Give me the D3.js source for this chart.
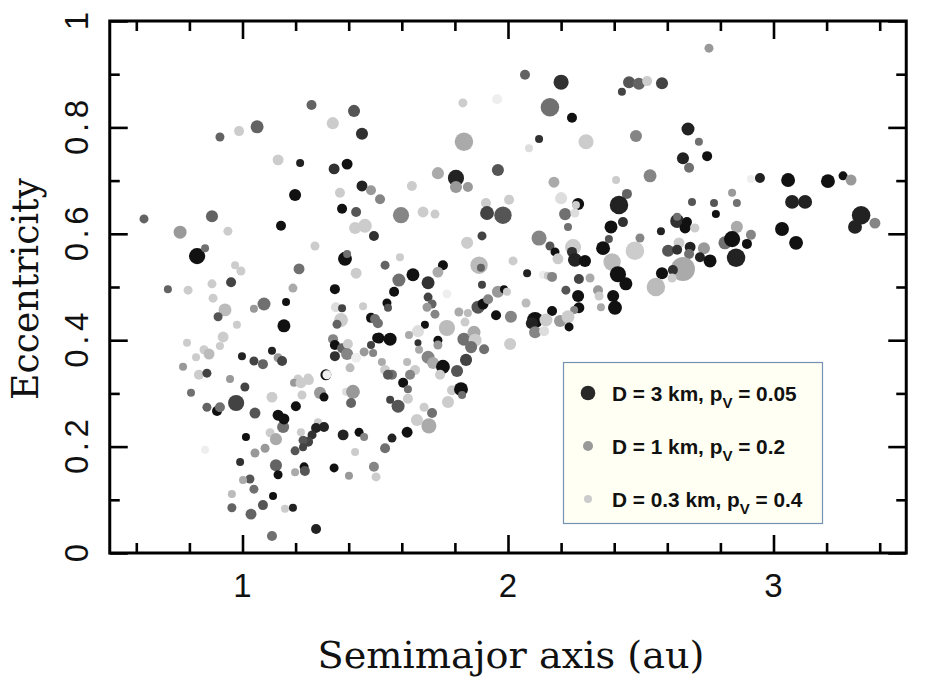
<!DOCTYPE html>
<html>
<head>
<meta charset="utf-8">
<script src="https://cdn.jsdelivr.net/npm/d3@7"></script>
<style>
  html, body { margin: 0; padding: 0; background: #fff; }
  svg { display: block; }
</style>
</head>
<body>
<svg id="chart" width="926" height="687"></svg>
<script>
// ---------------- data ----------------
const semimajor = [
1.26,1.42,1.34,1.45,1.055,0.987,0.915,1.134,1.217,1.345,
1.394,1.45,1.484,1.367,1.198,2.064,2.2,2.456,2.493,2.429,
1.83,1.959,2.158,2.241,2.117,2.079,2.294,2.482,1.834,1.736,
1.804,1.804,1.849,1.962,1.638,2.173,2.407,2.448,1.518,1.917,
2.004,2.2,2.264,2.256,2.418,2.757,2.58,2.524,2.678,2.719,
2.659,2.75,2.682,2.535,2.915,2.949,3.055,3.205,3.262,3.292,
2.844,2.693,2.776,2.862,3.07,3.119,1.375,1.428,0.629,0.885,
0.765,0.945,1.145,1.424,1.461,1.495,1.273,0.829,0.859,1.386,
1.394,0.972,0.994,1.213,1.428,0.719,0.795,0.885,0.957,1.19,
1.348,0.889,0.934,0.908,0.979,1.043,1.081,1.164,1.156,1.352,
1.375,1.371,1.356,1.454,1.484,1.499,0.791,0.927,0.915,0.855,
0.874,0.825,0.998,1.043,1.077,1.111,1.134,1.149,1.341,1.348,
1.375,1.397,1.394,1.348,1.428,1.458,1.484,1.492,1.507,0.776,
1.405,0.836,0.866,0.953,1.314,1.318,1.209,1.247,1.597,1.68,
1.725,1.921,1.981,1.846,1.902,1.593,1.537,1.755,1.736,1.642,
1.589,1.699,1.891,1.898,2.019,1.571,1.544,1.548,1.699,1.714,
1.695,1.77,1.902,1.962,1.985,1.996,1.887,1.906,1.925,1.725,
1.815,1.849,1.955,2.011,2.068,1.51,1.687,1.661,1.77,1.838,
1.627,1.514,1.556,1.661,1.736,1.736,1.665,1.834,1.872,1.876,
1.861,1.91,2.008,1.699,1.718,1.755,1.842,1.808,1.62,1.525,
1.537,1.563,1.65,1.631,1.744,2.215,2.252,2.388,2.433,2.226,
2.117,2.158,2.177,2.188,2.245,2.241,2.252,2.29,2.38,2.358,
2.478,2.497,2.392,2.414,2.444,2.072,2.132,2.15,2.166,2.267,
2.309,2.218,2.264,2.339,2.343,2.396,2.403,2.35,2.267,2.249,
2.166,2.102,2.09,2.143,2.196,2.226,2.23,2.102,2.136,2.783,
3.33,3.307,3.382,3.032,3.085,2.637,2.637,2.674,2.667,2.704,
2.576,2.603,2.644,2.637,2.686,2.682,2.738,2.723,2.761,2.659,
2.621,2.58,2.618,2.557,2.862,2.817,2.844,2.915,2.9,2.859,
1.009,0.806,0.866,0.904,0.915,0.976,1.047,1.111,1.153,1.134,
1.156,1.194,1.22,1.25,1.224,1.201,1.292,1.307,1.39,1.416,
1.409,1.284,1.307,1.277,1.262,1.247,1.228,1.22,1.228,1.198,
1.104,1.126,1.013,1.047,1.085,1.379,1.439,1.458,1.424,0.859,
0.991,1.126,1.134,1.232,1.235,1.198,1.345,1.401,1.495,1.503,
1.028,1.002,1.043,0.96,1.115,1.077,0.96,1.032,1.16,1.19,
1.277,1.111,1.548,1.605,1.623,1.623,1.556,1.586,1.789,1.823,
1.827,1.774,1.684,1.714,1.657,1.702,1.62,1.563,1.537
];
const eccentricity = [
.842,.831,.808,.788,.801,.793,.782,.739,.733,.722,
.731,.690,.682,.677,.673,.899,.885,.885,.882,.867,
.846,.853,.838,.818,.778,.761,.773,.784,.773,.714,
.705,.688,.688,.720,.690,.697,.701,.675,.665,.658,
.664,.667,.656,.654,.654,.949,.883,.887,.797,.773,
.742,.746,.724,.709,.703,.705,.701,.699,.709,.701,
.677,.660,.658,.658,.660,.660,.647,.641,.628,.633,
.603,.605,.615,.611,.615,.596,.577,.558,.573,.553,
.562,.541,.530,.534,.526,.496,.494,.506,.509,.498,
.496,.479,.457,.444,.429,.459,.468,.472,.427,.462,
.460,.438,.430,.464,.442,.440,.395,.406,.389,.382,
.374,.368,.370,.361,.355,.380,.367,.361,.402,.391,
.385,.393,.374,.370,.367,.378,.391,.376,.404,.350,
.348,.335,.338,.327,.335,.335,.327,.329,.635,.641,
.637,.639,.635,.583,.596,.556,.541,.541,.528,.523,
.513,.508,.541,.536,.549,.491,.470,.461,.481,.468,
.462,.487,.504,.491,.496,.491,.462,.468,.477,.449,
.453,.451,.447,.444,.470,.432,.429,.417,.423,.434,
.410,.404,.402,.395,.400,.391,.382,.402,.415,.400,
.387,.383,.393,.368,.357,.350,.363,.342,.359,.359,
.344,.335,.344,.335,.335,.637,.639,.613,.622,.613,
.592,.577,.566,.553,.575,.566,.551,.549,.590,.573,
.568,.592,.547,.524,.506,.526,.523,.521,.519,.515,
.517,.494,.483,.494,.483,.483,.461,.462,.461,.457,
.455,.438,.432,.438,.436,.444,.425,.415,.417,.637,
.635,.613,.620,.609,.583,.624,.632,.622,.611,.611,
.605,.568,.583,.570,.575,.562,.573,.556,.549,.534,
.532,.526,.517,.500,.613,.583,.590,.598,.581,.555,
.312,.301,.274,.267,.274,.282,.263,.293,.237,.259,
.252,.320,.320,.325,.297,.276,.301,.293,.303,.303,
.282,.246,.237,.235,.222,.209,.212,.227,.199,.192,
.226,.214,.218,.188,.197,.222,.227,.218,.190,.194,
.171,.165,.147,.162,.154,.152,.160,.145,.162,.143,
.139,.137,.120,.111,.107,.090,.085,.073,.083,.085,
.045,.032,.335,.320,.308,.290,.288,.276,.306,.308,
.297,.284,.274,.263,.250,.239,.227,.216,.197
];
// diameter D (km)
const diameter = [
1,1.9,1.9,1.9,2.3,1,.65,1.4,.3,1.4,
1.4,1.4,1,1,1.9,1,3.3,1.9,1.9,.3,
.65,1,5.5,1,.3,.3,3.3,1.9,5.5,1.9,
4,1.9,1,1.9,1,1.4,.3,1,1,1,
1,1.9,1.9,.3,5.5,.65,1.9,1,2.3,.3,
1.9,1,1,2.3,.3,1,2.7,2.7,.65,1.4,
.3,.3,.3,.3,2.7,2.7,1,1,.65,1.9,
2.3,.65,1,1.9,2.7,1,.65,4,.3,2.7,
.3,.3,.65,1.4,1.4,.3,.65,.65,1,.65,
1,.65,2.3,.65,.3,.3,2.3,.3,2.3,1,
.3,2.7,.65,.3,1,1,.3,1.4,.3,.65,
1.4,.3,.3,.65,1,.3,.65,1,1,1,
1,1,1.9,1,1,.65,.3,.3,1,.3,
.65,1,.65,.3,1.4,.65,.65,.65,4,1.4,
.65,2.7,4.8,1.9,.65,.3,.65,1,1.4,2.3,
2.3,2.3,4.8,.3,.65,1,.65,.3,.65,.65,
.65,.65,.3,1.9,.3,.3,2.3,1.4,1,.65,
.65,.3,1,1.9,.65,1,.3,1.9,4,.65,
.3,1.4,2.3,.2,.65,.65,.3,2.3,2.3,2.3,
1.9,1,1.9,2.3,1.9,2.7,1.9,1.9,.3,.3,
1,1,1,1,1,1.9,.65,2.3,1,.3,
3.3,.65,.65,1.4,4,1,2.7,1.9,.3,2.7,
5.5,.65,4.8,4,2.3,.3,.3,.3,1,1,
.65,.65,1.9,1,.65,1.9,2.7,.3,1.4,.3,
1,4,1.9,2.3,1.9,2.3,.65,1.9,1,.3,
5.5,2.7,1.4,2.7,2.7,2.7,.3,1,1.4,.65,
.3,1.9,1.4,1,1.4,1,1.9,1,2.3,9,
1,1.9,.65,5.5,1.9,2.3,4,1,1,5.5,
.65,.3,.65,1,1,4,1.4,1.4,1.9,1.4,
1.4,.3,1.4,1,.65,1,1.9,.65,.3,2.7,
1,.3,1,1,.65,1,.65,.3,.3,.65,
.65,1.9,.3,.65,.65,1.4,.65,.3,.3,.3,
.3,1.9,.65,.65,1,.3,.65,.3,1,.65,
.65,.3,.65,.3,.3,1,.65,1.4,.3,.3,
1,1,1,1,.3,1,.3,2.3,1,2.7,
.3,1.9,.65,1,1.9,3.3,1.4,.65,1
];
// geometric albedo pV
const albedo = [
.12,.1,.4,.06,.12,.4,.12,.4,.045,.06,
.03,.045,.2,.4,.03,.12,.06,.1,.12,.08,
.4,.5,.14,.03,.06,.45,.4,.17,.25,.25,
.045,.2,.2,.1,.4,.25,.4,.12,.17,.4,
.4,.45,.03,.4,.045,.2,.08,.4,.045,.14,
.045,.03,.14,.17,.5,.045,.03,.03,.03,.2,
.2,.1,.1,.14,.045,.045,.03,.1,.12,.12,
.2,.4,.03,.4,.4,.06,.4,.03,.14,.03,
.14,.4,.4,.14,.4,.12,.4,.4,.08,.25,
.03,.4,.3,.1,.4,.2,.14,.03,.03,.45,
.08,.4,.12,.4,.03,.14,.4,.4,.4,.4,
.3,.4,.045,.08,.12,.045,.2,.08,.17,.03,
.12,.4,.17,.06,.5,.2,.08,.17,.03,.2,
.3,.4,.08,.2,.03,.5,.4,.4,.17,.4,
.4,.08,.1,.4,.08,.4,.12,.03,.25,.03,
.14,.06,.3,.12,.4,.03,.03,.1,.08,.12,
.2,.5,.08,.2,.03,.4,.1,.03,.17,.17,
.25,.3,.03,.17,.3,.14,.03,.45,.3,.4,
.25,.03,.03,.06,.03,.2,.25,.14,.25,.4,
.14,.14,.4,.17,.25,.03,.08,.1,.3,.25,
.4,.14,.4,.17,.4,.14,.45,.03,.06,.14,
.17,.1,.03,.4,.4,.06,.045,.03,.1,.03,
.4,.17,.3,.03,.03,.045,.5,.4,.17,.08,
.25,.1,.03,.2,.4,.03,.03,.25,.03,.17,
.03,.03,.045,.4,.2,.4,.03,.17,.45,.03,
.045,.045,.17,.03,.03,.06,.14,.03,.03,.4,
.045,.1,.4,.06,.045,.14,.2,.045,.03,.25,
.06,.03,.4,.3,.25,.14,.03,.17,.03,.045,
.08,.14,.12,.03,.14,.08,.1,.4,.14,.03,
.03,.2,.4,.4,.4,.03,.2,.03,.45,.2,
.12,.4,.045,.045,.06,.08,.1,.4,.08,.1,
.4,.25,.03,.2,.2,.045,.03,.17,.4,.5,
.06,.12,.03,.03,.1,.25,.03,.2,.17,.4,
.1,.25,.14,.3,.03,.1,.12,.12,.4,.045,
.045,.14,.1,.03,.14,.4,.08,.1,.4,.03,
.14,.4,.4,.14,.4,.25,.03,.045,.14
];

const legendDiameter = [3, 1, 0.3];
const legendAlbedo = [0.05, 0.2, 0.4];
const legendDText = ["3", "1", "0.3"];
const legendPvText = ["0.05", "0.2", "0.4"];

const xMajorTicks = [1, 2, 3];
const xMinorTicks = [0.6, 0.8, 1.2, 1.4, 1.6, 1.8, 2.2, 2.4, 2.6, 2.8, 3.2, 3.4];
const xTickLabels = ["1", "2", "3"];
const yMajorTicks = [0, 0.2, 0.4, 0.6, 0.8, 1];
const yMinorTicks = [0.1, 0.3, 0.5, 0.7, 0.9];
const yTickLabels = ["0", "0.2", "0.4", "0.6", "0.8", "1"];

const xTitle = "Semimajor axis (au)";
const yTitle = "Eccentricity";

// ---------------- chart ----------------
const svg = d3.select("#chart");
const L = 109.75, R = 906.25, T = 21, B = 553;

const x = d3.scaleLinear().domain([0.5, 3.5]).range([L, R]);
const y = d3.scaleLinear().domain([0, 1]).range([B, T]);
const rScale = d3.scaleLinear().domain([0.2, 0.3, 1, 3, 9]).range([3.5, 4, 5, 7.3, 12]);
const grayScale = d3.scaleLinear().domain([0.03, 0.05, 0.1, 0.2, 0.3, 0.4, 0.5])
  .range([17, 40, 85, 153, 187, 204, 238]).clamp(true);
const colorOf = pv => { const g = Math.round(grayScale(pv)); return d3.rgb(g, g, g).formatHex(); };

const data = semimajor.map((a, i) => ({ a, e: eccentricity[i], D: diameter[i], pv: albedo[i] }));

// points
svg.append("g").selectAll("circle").data(data).join("circle")
  .attr("cx", d => x(d.a))
  .attr("cy", d => y(d.e))
  .attr("r", d => rScale(d.D))
  .attr("fill", d => colorOf(d.pv));

// ticks via d3 axes (inward)
function tickAxis(axisGen, transform, values, size) {
  const g = svg.append("g").attr("transform", transform)
    .call(axisGen.tickValues(values).tickSizeInner(size).tickSizeOuter(0).tickFormat(""));
  g.select(".domain").remove();
  g.selectAll("line").attr("stroke", "#000").attr("stroke-width", 2.6);
  return g;
}
tickAxis(d3.axisBottom(x), `translate(0,${B})`, xMajorTicks, -18);
tickAxis(d3.axisBottom(x), `translate(0,${B})`, xMinorTicks, -10);
tickAxis(d3.axisTop(x), `translate(0,${T})`, xMajorTicks, -18);
tickAxis(d3.axisTop(x), `translate(0,${T})`, xMinorTicks, -10);
tickAxis(d3.axisLeft(y), `translate(${L},0)`, yMajorTicks, -18);
tickAxis(d3.axisLeft(y), `translate(${L},0)`, yMinorTicks, -10);
tickAxis(d3.axisRight(y), `translate(${R},0)`, yMajorTicks, -18);
tickAxis(d3.axisRight(y), `translate(${R},0)`, yMinorTicks, -10);

// frame
svg.append("rect").attr("x", L).attr("y", T).attr("width", R - L).attr("height", B - T)
  .attr("fill", "none").attr("stroke", "#000").attr("stroke-width", 3);

// tick labels
const tickFont = "'Liberation Sans', Arial, sans-serif";
svg.append("g").selectAll("text").data(xMajorTicks).join("text")
  .attr("x", d => x(d)).attr("y", 597)
  .attr("text-anchor", "middle")
  .attr("font-family", tickFont).attr("font-size", 33).attr("fill", "#111")
  .text((d, i) => xTickLabels[i]);

svg.append("g").selectAll("text").data(yMajorTicks).join("text")
  .attr("transform", d => `translate(88,${y(d)}) rotate(-90)`)
  .attr("text-anchor", "middle")
  .attr("font-family", tickFont).attr("font-size", 33).attr("fill", "#111")
  .each(function (d, i) {
    const t = d3.select(this).text(yTickLabels[i]);
    if (yTickLabels[i].length > 1) t.attr("textLength", 55).attr("lengthAdjust", "spacing");
  });

// axis titles
const titleFont = "'DejaVu Serif', serif";
svg.append("text")
  .attr("x", (L + R) / 2 + 3).attr("y", 668)
  .attr("text-anchor", "middle")
  .attr("font-family", titleFont).attr("font-size", 37).attr("fill", "#111")
  .attr("textLength", 387).attr("lengthAdjust", "spacingAndGlyphs")
  .text(xTitle);

svg.append("text")
  .attr("transform", `translate(38,${(T + B) / 2 + 2}) rotate(-90)`)
  .attr("text-anchor", "middle")
  .attr("font-family", titleFont).attr("font-size", 37).attr("fill", "#111")
  .attr("textLength", 222).attr("lengthAdjust", "spacingAndGlyphs")
  .text(yTitle);

// legend
const lg = svg.append("g");
lg.append("rect").attr("x", 563.5).attr("y", 362.5).attr("width", 259).attr("height", 161)
  .attr("fill", "#fffff3").attr("stroke", "#7591b3").attr("stroke-width", 1.2);
const rowY = [393, 446, 499];
legendDiameter.forEach((D, i) => {
  lg.append("circle").attr("cx", 588).attr("cy", rowY[i])
    .attr("r", rScale(D)).attr("fill", colorOf(legendAlbedo[i]));
  const t = lg.append("text").attr("x", 612).attr("y", rowY[i] + 8)
    .attr("font-family", tickFont).attr("font-weight", "bold")
    .attr("font-size", 20.8).attr("fill", "#111");
  t.append("tspan").text(`D = ${legendDText[i]} km, p`);
  t.append("tspan").attr("font-size", 15).attr("dy", 7).text("V");
  t.append("tspan").attr("dy", -7).text(` = ${legendPvText[i]}`);
});
</script>
</body>
</html>
